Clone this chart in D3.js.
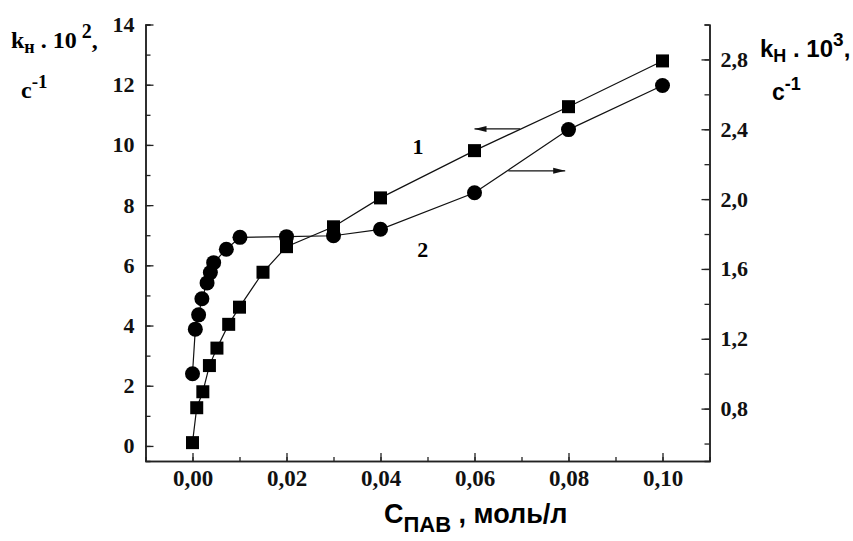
<!DOCTYPE html>
<meta charset="utf-8">
<style>
body { margin: 0; background: #fff; }
.axis path, .axis line { stroke: #222; }
</style>
<svg width="853" height="541"></svg>
<script src="https://cdn.jsdelivr.net/npm/d3@7"></script>
<script>

// series 1 - squares, left axis (k*10^2)
var conc1 = [0, 0.0009, 0.0022, 0.0036, 0.0052, 0.0077, 0.010, 0.015, 0.020, 0.030, 0.040, 0.060, 0.080, 0.100];
var k1    = [0.11, 1.27, 1.80, 2.67, 3.25, 4.04, 4.61, 5.77, 6.62, 7.28, 8.24, 9.81, 11.27, 12.79];

// series 2 - circles, right axis (k*10^3)
var conc2 = [0, 0.0006, 0.0013, 0.0020, 0.0031, 0.0038, 0.0045, 0.0072, 0.0101, 0.020, 0.030, 0.040, 0.060, 0.080, 0.100];
var k2    = [1.00, 1.255, 1.337, 1.429, 1.52, 1.579, 1.636, 1.713, 1.781, 1.785, 1.79, 1.827, 2.036, 2.398, 2.651];

var xTicks = [0, 0.02, 0.04, 0.06, 0.08, 0.10];
var yLeftTicks = [0, 2, 4, 6, 8, 10, 12, 14];
var yRightTicks = [0.8, 1.2, 1.6, 2.0, 2.4, 2.8];

var serif = "'Liberation Serif', 'Times New Roman', serif";
var sans = "'Liberation Sans', Arial, sans-serif";

var svg = d3.select("svg");

var x = d3.scaleLinear().domain([-0.01, 0.11]).range([145.5, 709.5]);
var yL = d3.scaleLinear().domain([-0.5, 14]).range([461, 24.5]);
var yR = d3.scaleLinear().domain([0.5, 3.0]).range([461, 24.5]);

var fmt = function(n) { return function(d) { return d3.format("." + n + "f")(d).replace(".", ","); }; };

// minor ticks first
svg.append("g").attr("class", "axis")
    .attr("transform", "translate(0,461)")
    .call(d3.axisBottom(x).tickValues(d3.range(-0.01, 0.111, 0.01)).tickSize(-4).tickFormat(""));
svg.append("g").attr("class", "axis")
    .attr("transform", "translate(145.5,0)")
    .call(d3.axisLeft(yL).tickValues(d3.range(-0, 14.1, 1)).tickSize(-5).tickFormat(""));
svg.append("g").attr("class", "axis")
    .attr("transform", "translate(709.5,0)")
    .call(d3.axisRight(yR).tickValues(d3.range(0.6, 3.01, 0.2)).tickSize(-5).tickFormat(""));

// major axes
var gx = svg.append("g").attr("class", "axis")
    .attr("transform", "translate(0,461)")
    .call(d3.axisBottom(x).tickValues(xTicks).tickSize(-8).tickSizeOuter(0).tickPadding(9).tickFormat(fmt(2)));

var gl = svg.append("g").attr("class", "axis")
    .attr("transform", "translate(145.5,0)")
    .call(d3.axisLeft(yL).tickValues(yLeftTicks).tickSize(-8).tickSizeOuter(0).tickPadding(11).tickFormat(d3.format("d")));

var gr = svg.append("g").attr("class", "axis")
    .attr("transform", "translate(709.5,0)")
    .call(d3.axisRight(yR).tickValues(yRightTicks).tickSize(-8).tickSizeOuter(0).tickPadding(11).tickFormat(fmt(1)));

[gx, gl, gr].forEach(function(g) {
  g.attr("font-size", 22);
  g.selectAll("text").attr("fill", "#111")
      .style("font-family", serif).style("font-weight", "bold");
});
gx.attr("font-size", 23);

svg.selectAll(".axis path").attr("stroke-width", 1.5);
svg.selectAll(".axis line").attr("stroke-width", 1.3);

// lines
var d1 = conc1.map(function(c, i) { return [c, k1[i]]; });
var d2 = conc2.map(function(c, i) { return [c, k2[i]]; });

svg.append("path").datum(d1)
    .attr("fill", "none").attr("stroke", "#111").attr("stroke-width", 1.2)
    .attr("d", d3.line().x(function(d) { return x(d[0]); }).y(function(d) { return yL(d[1]); }));
svg.append("path").datum(d2)
    .attr("fill", "none").attr("stroke", "#111").attr("stroke-width", 1.2)
    .attr("d", d3.line().x(function(d) { return x(d[0]); }).y(function(d) { return yR(d[1]); }));

svg.selectAll("rect.pt").data(d1).enter().append("rect")
    .attr("class", "pt")
    .attr("x", function(d) { return x(d[0]) - 6.5; })
    .attr("y", function(d) { return yL(d[1]) - 6.5; })
    .attr("width", 13).attr("height", 13)
    .attr("fill", "#000");

svg.selectAll("circle.pt").data(d2).enter().append("circle")
    .attr("class", "pt")
    .attr("cx", function(d) { return x(d[0]); })
    .attr("cy", function(d) { return yR(d[1]); })
    .attr("r", 7.5)
    .attr("fill", "#000");

// arrows
function arrow(x1, y1, x2, y2) {
  svg.append("line").attr("x1", x1).attr("y1", y1).attr("x2", x2).attr("y2", y2)
      .attr("stroke", "#111").attr("stroke-width", 1.2);
  var dir = x2 > x1 ? 1 : -1;
  svg.append("path")
      .attr("d", "M" + x2 + "," + y2 + "L" + (x2 - dir * 12) + "," + (y2 - 3) + "L" + (x2 - dir * 12) + "," + (y2 + 3) + "Z")
      .attr("fill", "#111");
}
arrow(x(0.0697), yL(10.53), x(0.0600), yL(10.53));
arrow(x(0.0672), yR(2.162), x(0.0793), yR(2.162));

// curve labels
svg.append("text").attr("x", x(0.048)).attr("y", yL(9.7))
    .attr("text-anchor", "middle").style("font-family", serif)
    .attr("font-weight", "bold").attr("font-size", 22).text("1");
svg.append("text").attr("x", x(0.049)).attr("y", yL(6.28))
    .attr("text-anchor", "middle").style("font-family", serif)
    .attr("font-weight", "bold").attr("font-size", 22).text("2");

// left title
var lt = svg.append("text").attr("x", 11).attr("y", 48)
    .style("font-family", serif).attr("font-weight", "bold").attr("font-size", 24);
lt.append("tspan").text("k");
lt.append("tspan").attr("font-size", 18).attr("dy", 5).text("н");
lt.append("tspan").attr("dy", -5).text(" . 10");
lt.append("tspan").attr("font-size", 20).attr("dy", -10).text(" 2");
lt.append("tspan").attr("dy", 10).text(",");

var lt2 = svg.append("text").attr("x", 21).attr("y", 98)
    .style("font-family", serif).attr("font-weight", "bold").attr("font-size", 24);
lt2.append("tspan").text("c");
lt2.append("tspan").attr("font-size", 19).attr("dy", -10).text("-1");

// right title
var rt = svg.append("text").attr("x", 760).attr("y", 57)
    .style("font-family", sans).attr("font-weight", "bold").attr("font-size", 24);
rt.append("tspan").text("k");
rt.append("tspan").attr("font-size", 18).attr("dy", 5).text("H");
rt.append("tspan").attr("dy", -5).text(" . 10");
rt.append("tspan").attr("font-size", 19).attr("dy", -11).text("3");
rt.append("tspan").attr("dy", 11).text(",");

var rt2 = svg.append("text").attr("x", 772).attr("y", 100)
    .style("font-family", sans).attr("font-weight", "bold").attr("font-size", 23);
rt2.append("tspan").text("c");
rt2.append("tspan").attr("font-size", 18).attr("dy", -10).text("-1");

// x title
var xt = svg.append("text").attr("x", 384).attr("y", 523)
    .style("font-family", sans).attr("font-weight", "bold").attr("font-size", 27);
xt.append("tspan").text("C");
xt.append("tspan").attr("font-size", 22).attr("dy", 9).text("ПАВ");
xt.append("tspan").attr("dy", -9).text(" , моль/л");

</script>
